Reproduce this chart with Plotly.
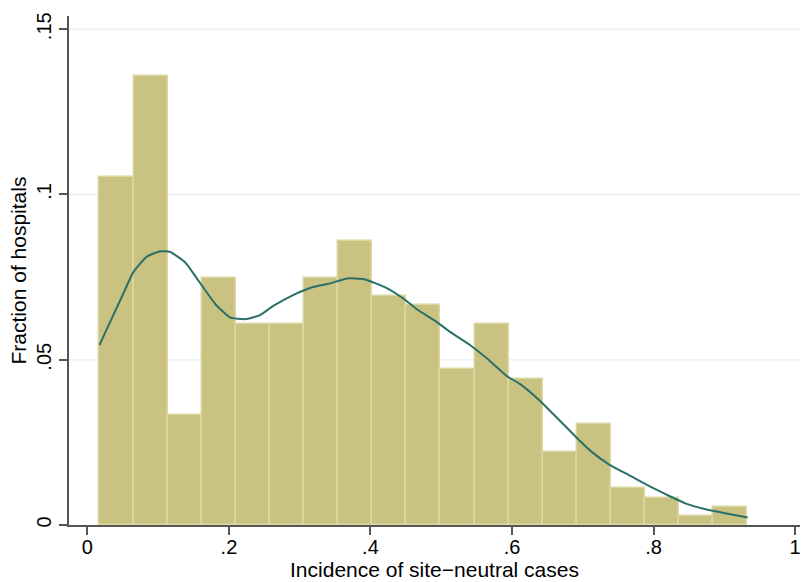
import plotly.graph_objects as go

# Histogram: bin edges start and width, fraction of hospitals per bin
bin_start = 0.01695
bin_width = 0.0482
fractions = [0.1053, 0.1357, 0.0332, 0.0748, 0.0609, 0.0609, 0.0748, 0.0859,
             0.0693, 0.0665, 0.0471, 0.0609, 0.0443, 0.0222, 0.0305, 0.0111,
             0.0083, 0.0028, 0.0055]
bin_centers = [bin_start + bin_width * (i + 0.5) for i in range(len(fractions))]

# Kernel density curve (scaled)
kde_x = [0.017, 0.032, 0.049, 0.065, 0.084, 0.103, 0.117, 0.138, 0.159, 0.181,
         0.2015, 0.223, 0.244, 0.262, 0.290, 0.319, 0.343, 0.367, 0.390, 0.423,
         0.446, 0.466, 0.494, 0.512, 0.541, 0.564, 0.593, 0.611, 0.639, 0.667,
         0.691, 0.714, 0.738, 0.766, 0.799, 0.823, 0.847, 0.875, 0.903, 0.933]
kde_y = [0.0544, 0.0614, 0.0692, 0.0765, 0.0812, 0.0828, 0.0826, 0.0795, 0.0733, 0.0668,
         0.0628, 0.0623, 0.0635, 0.0662, 0.0695, 0.0720, 0.0731, 0.0746, 0.0744, 0.0717,
         0.0686, 0.0652, 0.0614, 0.0585, 0.0544, 0.0505, 0.0450, 0.0427, 0.0377, 0.0317,
         0.0265, 0.0219, 0.0182, 0.0150, 0.0112, 0.0087, 0.0064, 0.0047, 0.0035, 0.0023]

x_ticks = [0, 0.2, 0.4, 0.6, 0.8, 1]
x_tick_labels = ["0", ".2", ".4", ".6", ".8", "1"]
y_ticks = [0, 0.05, 0.1, 0.15]
y_tick_labels = ["0", ".05", ".1", ".15"]

font_family = "Liberation Sans, Arial, sans-serif"
fs_title = 21
fs_tick = 20

fig = go.Figure()
fig.add_trace(go.Bar(
    x=bin_centers, y=fractions, width=[bin_width] * len(fractions),
    marker=dict(color="#cac281", line=dict(color="#dcd7a2", width=1.5)),
    showlegend=False, hoverinfo="skip"))
fig.add_trace(go.Scatter(
    x=kde_x, y=kde_y, mode="lines", line=dict(color="#2a6f68", width=2, shape="spline", smoothing=0.5),
    showlegend=False))

# gridlines (not at zero)
for yv in y_ticks[1:]:
    fig.add_shape(type="line", xref="paper", x0=0, x1=1, yref="y", y0=yv, y1=yv,
                  line=dict(color="#eaf1f4", width=1.5), layer="below")

fig.update_layout(
    width=803, height=582,
    margin=dict(l=69, r=3, t=16, b=57),
    plot_bgcolor="white", paper_bgcolor="white",
    bargap=0,
    font=dict(family=font_family, size=fs_title, color="black"),
    xaxis=dict(range=[-0.026, 1.007], tickvals=x_ticks, ticktext=x_tick_labels,
               showgrid=False, zeroline=False, showline=True, linecolor="#555555", linewidth=1.5,
               ticks="outside", ticklen=8, tickwidth=1.5, tickcolor="#555555",
               ticklabelstandoff=-5,
               title=dict(text="Incidence of site\u2212neutral cases", standoff=0, font=dict(size=fs_title)),
               tickfont=dict(size=fs_tick)),
    yaxis=dict(range=[0, 0.154], tickvals=y_ticks, ticktext=y_tick_labels,
               showgrid=False, zeroline=False, showline=True, linecolor="#555555", linewidth=1.5,
               ticks="outside", ticklen=8, tickwidth=1.5, tickcolor="#555555", tickangle=-90,
               title=dict(text="Fraction of hospitals", standoff=1, font=dict(size=fs_title)),
               tickfont=dict(size=fs_tick)),
)

fig.write_html("out.html")
